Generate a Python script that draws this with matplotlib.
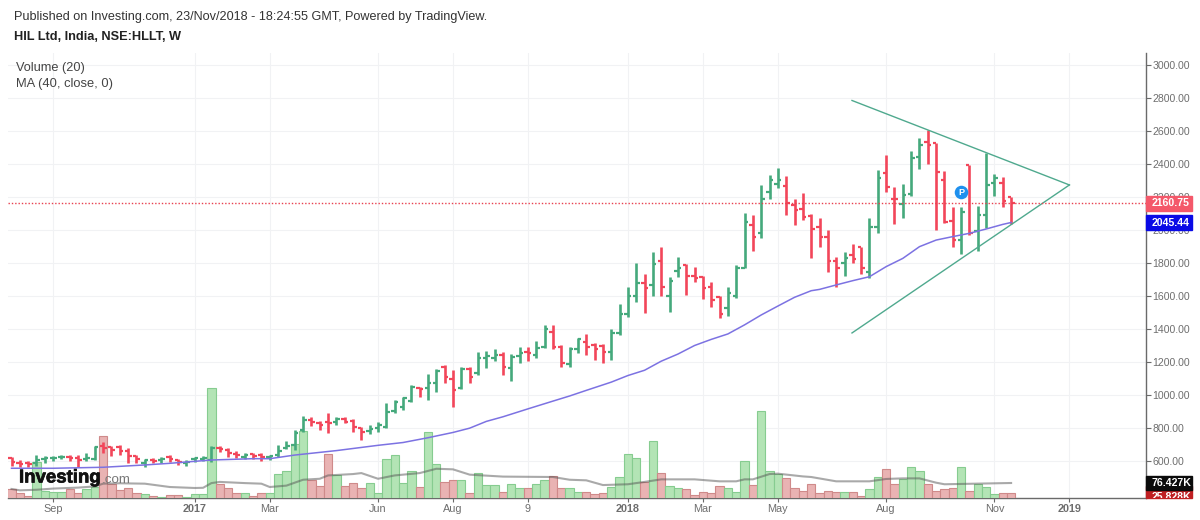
import matplotlib
matplotlib.use("Agg")
import matplotlib.pyplot as plt
import matplotlib.patheffects as pe
from matplotlib.collections import LineCollection
from matplotlib.patches import Rectangle
from matplotlib.transforms import Bbox

plt.rcParams["font.family"] = ["Liberation Sans", "DejaVu Sans"]

# Weekly bars for HIL Ltd, oldest first
opens = [620,590,586,586,612,616,622,624,620,612,610,691,683,687,663,630,586,606,606,626,606,586,610,614,606,
         677,667,643,626,641,635,622,635,679,699,788,849,828,834,838,857,845,798,784,798,808,905,
         929,966,1043,1041,1075,1168,1095,1041,1156,1131,1222,1222,1243,1162,1236,1259,1243,1293,1384,1293,1188,1281,1323,1303,1297,1262,
         1374,1491,1600,1677,1667,1814,1600,1752,1790,1721,1713,1657,1592,1525,1600,1772,2030,1980,2232,2279,2267,2151,2125,2085,2016,
         1960,1812,1798,1849,1895,1748,2020,2344,2186,2158,2218,2440,2535,2525,2303,2057,1940,2392,1996,2091,2287,2287,2198]
highs = [622,606,600,634,630,632,639,639,634,651,691,717,691,695,677,639,614,618,622,639,614,606,626,630,691,
         691,677,659,647,651,649,639,697,723,788,871,865,841,889,865,865,857,808,818,836,950,970,
         986,1061,1051,1127,1156,1182,1152,1168,1168,1261,1269,1277,1261,1249,1293,1293,1329,1424,1424,1303,1289,1348,1368,1313,1307,1398,
         1552,1657,1802,1733,1869,1899,1717,1838,1794,1774,1721,1685,1600,1653,1788,2101,2089,2275,2335,2376,2327,2186,2222,2097,2071,
         2000,1838,1865,1915,1899,2071,2364,2453,2259,2277,2479,2556,2606,2529,2358,2137,2137,2396,2148,2469,2339,2323,2202]
lows = [570,566,566,570,590,600,610,600,562,600,606,651,630,636,586,586,562,586,590,594,578,572,594,600,596,
        655,626,618,614,610,602,606,622,671,667,778,812,788,772,820,828,778,727,764,778,802,893,
        909,960,990,970,1020,1071,925,1034,1075,1121,1162,1208,1123,1087,1196,1208,1222,1283,1277,1168,1172,1253,1242,1212,1196,1212,
        1364,1475,1566,1495,1600,1600,1505,1717,1606,1687,1584,1535,1467,1479,1588,1768,1871,1949,2186,2252,2093,2032,2061,1828,1899,
        1748,1657,1721,1802,1733,1711,1984,2232,2036,2075,2206,2368,2400,2000,2045,1895,1853,1970,1875,2012,2206,2141,2034]
closes = [596,582,582,606,618,620,626,616,606,620,687,677,667,661,630,610,606,602,610,610,594,596,616,620,677,
          671,647,635,635,630,622,628,663,693,772,849,836,816,828,853,838,804,778,792,818,899,960,
          980,1051,1034,1075,1146,1107,1030,1156,1107,1222,1236,1243,1172,1232,1253,1257,1283,1398,1293,1196,1277,1338,1293,1279,1262,1378,
          1491,1600,1681,1646,1794,1657,1693,1768,1721,1707,1646,1576,1491,1620,1768,2050,1956,2186,2303,2303,2162,2121,2077,2004,1960,
          1812,1768,1828,1822,1768,2020,2313,2263,2186,2212,2434,2515,2515,2354,2051,1940,2111,1984,2091,2273,2313,2176,2160.75]

# Traded volume in thousands of shares
volumes = [48,25,12,183,34,32,32,46,25,48,56,314,70,42,49,25,20,10,3,17,17,3,19,19,559,70,49,25,25,10,25,25,
           124,136,277,340,93,63,226,115,59,76,53,76,24,200,219,
           78,136,58,336,175,80,93,90,25,127,65,65,32,71,49,49,71,90,112,53,53,29,32,19,24,54,109,226,205,83,290,127,
           63,53,48,15,32,24,63,53,32,187,66,443,136,124,104,53,
           37,71,24,34,29,29,29,12,44,109,146,71,95,160,136,71,37,44,53,160,37,71,58,19,25,25.83]

# 20-week average of volume: bar index and level in thousands
vol_ma_idx = [0,1,3,5,8,10,11,13,16,19,22,23,24,25,28,30,31,33,35,37,38,41,42,44,46,47,49,51,53,55,59,65,67,69,71,
              74,76,78,82,85,87,88,89,91,92,95,96,99,103,105,107,109,111,112,120]
vol_ma = [46,39,42,48,53,59,73,75,73,56,51,52,76,82,76,73,56,63,93,98,115,122,127,98,115,119,127,149,146,119,109,107,93,90,66,
          70,82,95,95,85,85,95,95,122,124,110,107,85,85,97,100,100,78,70,76.427]

# 40-week average of the close: bar index and price
ma_idx = [0,5,11,16,19,24,29,31,34,39,44,47,50,53,55,57,59,62,65,67,69,72,74,76,78,80,82,84,86,88,90,92,94,96,
          97,99,101,103,105,107,109,111,113,115,117,119,120]
ma_vals = [556,556,562,576,586,606,614,614,636,663,695,712,741,773,799,840,868,916,963,994,1028,1078,1118,1150,1205,1248,1300,
           1337,1370,1425,1485,1539,1592,1632,1640,1667,1693,1717,1778,1828,1899,1939,1960,1980,2006,2034,2045.44]

# Hand-drawn triangle: two lines closing at the apex
trend_idx = [100.9, 127.0, 100.9]
trend_vals = [2785, 2273, 1376]

# Publication marker position
marker_idx = 114
marker_price = 2230

last_close = closes[-1]
last_ma = ma_vals[-1]
last_vol_ma = vol_ma[-1]
last_vol = volumes[-1]

price_ticks = list(range(600, 3001, 200))
date_idx = [5, 22, 31, 44, 53, 62, 74, 83, 92, 105, 118, 127]
date_labels = ["Sep", "2017", "Mar", "Jun", "Aug", "9", "2018", "Mar", "May", "Aug", "Nov", "2019"]
bold_dates = {"2017", "2018", "2019"}

GREEN = "#45A97C"
RED = "#F2465A"
AXIS_GREY = "#6A6A6A"
TEXT_GREY = "#6E6E6E"
GRID = "#F1F2F4"

W, H = 1200, 520
L, R, B, T = 8, 1146, 498, 53
rect = [L / W, 1 - B / H, (R - L) / W, (B - T) / H]
fig = plt.figure(figsize=(W / 100, H / 100), dpi=100, facecolor="white")

STEP = 8.33
PX_PER_PRICE = 0.165
KILO_PER_PX = 5.095
xlim = ((L - 11.5) / STEP, (R - 11.5) / STEP)
ylim = (3000 - (B - 65) / PX_PER_PRICE, 3000 + (65 - T) / PX_PER_PRICE)

# Three layers: scales and grid, volume pane, price marks
ax_grid = fig.add_axes(rect, zorder=0)
ax_vol = fig.add_axes(rect, zorder=1)
ax = fig.add_axes(rect, zorder=2)
for a in (ax_vol, ax):
    a.patch.set_visible(False)
    a.axis("off")
    a.set_xlim(xlim)
ax.set_ylim(ylim)
ax_grid.set_xlim(xlim)
ax_grid.set_ylim(ylim)
ax_vol.set_ylim(0, (B - T) * KILO_PER_PX)

ax_grid.grid(True, color=GRID, lw=0.8)
ax_grid.set_axisbelow(True)
ax_grid.yaxis.tick_right()
ax_grid.set_yticks(price_ticks, [f"{v:.2f}" for v in price_ticks])
ax_grid.set_xticks(date_idx, date_labels)
ax_grid.tick_params(axis="y", length=3.5, width=0.8, color=AXIS_GREY, labelcolor=TEXT_GREY, labelsize=7.6, pad=1.2)
ax_grid.tick_params(axis="x", length=3, width=0.8, color=AXIS_GREY, labelcolor=TEXT_GREY, labelsize=7.8, pad=1)
for lab in ax_grid.get_xticklabels():
    if lab.get_text() in bold_dates:
        lab.set_fontweight("bold")
for side in ("top", "left"):
    ax_grid.spines[side].set_visible(False)
for side in ("bottom", "right"):
    ax_grid.spines[side].set_color(AXIS_GREY)
    ax_grid.spines[side].set_linewidth(1.0)

is_up = [c > o for o, c in zip(opens, closes)]
x = list(range(len(closes)))

# Volume columns and their average
ax_vol.bar(x, volumes, width=1.0,
           color=["#B3E4B5" if u else "#E9B3B3" for u in is_up],
           edgecolor=["#86CC90" if u else "#CF8A8A" for u in is_up], linewidth=0.8)
ax_vol.plot(vol_ma_idx, vol_ma, color="#555555", alpha=0.5, lw=1.5, solid_joinstyle="round")

# Price bars: high-low stem, open tick to the left, close tick to the right
colors = [GREEN if u else RED for u in is_up]
stems = [[(i, l), (i, h)] for i, l, h in zip(x, lows, highs)]
open_ticks = [[(i - 0.42, o), (i, o)] for i, o in zip(x, opens)]
close_ticks = [[(i, c), (i + 0.42, c)] for i, c in zip(x, closes)]
ax.add_collection(LineCollection(stems, colors=colors, linewidths=1.9, capstyle="butt"))
ax.add_collection(LineCollection(open_ticks + close_ticks, colors=colors + colors, linewidths=1.6, capstyle="butt"))

ax.plot(ma_idx, ma_vals, color="#7C72E2", lw=1.1)
ax.plot(trend_idx[:2], trend_vals[:2], color="#4FA98E", lw=1.0)
ax.plot(trend_idx[1:], trend_vals[1:], color="#4FA98E", lw=1.0)
ax.axhline(last_close, color="#E8404F", lw=1.0, ls=(0, (1, 1.4)))

ax.scatter([marker_idx], [marker_price], s=95, color="#1E90EE", linewidths=0, zorder=5)
ax.text(marker_idx, marker_price, "P", color="white", fontsize=6.5, fontweight="bold",
        ha="center", va="center", zorder=6)


def axis_tag(target, value, text, box, height):
    """Coloured value tag sitting on the price scale."""
    tr = target.get_yaxis_transform()
    target.add_patch(Rectangle((1.0, value - height / 2), 46 / (R - L), height, transform=tr,
                               color=box, clip_on=False, zorder=8))
    return target.text(1 + 25 / (R - L), value, text, transform=tr, color="white", fontsize=7.6,
                       fontweight="bold", ha="center", va="center", zorder=9, clip_on=False)


axis_tag(ax, last_close, f"{last_close:.2f}", "#F4586A", 15 / PX_PER_PRICE)
axis_tag(ax, last_ma, f"{last_ma:.2f}", "#0A0AE6", 15 / PX_PER_PRICE)

# Volume tags: the lower one is cut off by the bottom of the pane
ax_vol.add_patch(Rectangle((1.0, 0), 46 / (R - L), 60, transform=ax_vol.get_yaxis_transform(),
                           color="#C01F22", clip_on=False, zorder=8))
low_tag = ax_vol.text(1 + 25 / (R - L), 6, "25.828K",
                      transform=ax_vol.get_yaxis_transform(), color="white", fontsize=7.6, fontweight="bold",
                      ha="center", va="center", zorder=9)
low_tag.set_clip_on(True)
low_tag.set_clip_box(Bbox.from_extents(R, H - B, R + 46, H - 491))
axis_tag(ax_vol, last_vol_ma, f"{last_vol_ma:.3f}K", "#0B0B0B", 14.5 * KILO_PER_PX)

# Header and study legend
fig.text(14 / W, 1 - 17 / H, "Published on Investing.com, 23/Nov/2018 - 18:24:55 GMT, Powered by TradingView.",
         fontsize=9.1, color="#333333", va="center")
fig.text(14 / W, 1 - 37.5 / H, "HIL Ltd, India, NSE:HLLT, W", fontsize=9.2, fontweight="bold", color="#222222", va="center")
fig.text(16 / W, 1 - 68 / H, "Volume (20)", fontsize=9.2, color="#444444", va="center")
fig.text(16 / W, 1 - 84 / H, "MA (40, close, 0)", fontsize=9.3, color="#444444", va="center")

# Site wordmark over the lower-left corner
fig.text(19 / W, 1 - 478 / H, "Investing", fontsize=13.4, fontweight="bold", color="#111111", va="center",
         path_effects=[pe.withStroke(linewidth=0.5, foreground="#111111")])
fig.text(101.5 / W, 1 - 480 / H, ".com", fontsize=9.6, color="#777777", va="center")

fig.savefig("out.png", dpi=100, facecolor="white")
